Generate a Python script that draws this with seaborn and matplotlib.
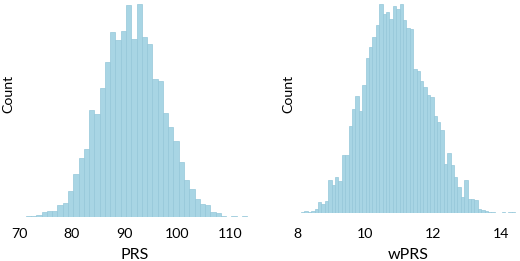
import numpy as np
import pandas as pd
import matplotlib
matplotlib.use("Agg")
import matplotlib.pyplot as plt
import seaborn as sns

# ---- data ----
prs_bin_start = 71.3
prs_bin_width = 1.0
prs_counts = [2, 4, 7, 14, 17, 18, 36, 42, 79, 130, 179, 207, 324, 312, 392, 470,
              560, 536, 564, 642, 540, 647, 547, 525, 420, 412, 315, 272, 232, 167,
              112, 84, 54, 38, 36, 14, 12, 4, 1, 2, 0, 2]
prs_ticks = [70, 80, 90, 100, 110]

wprs_bin_start = 8.12
wprs_bin_width = 0.1
wprs_counts = [2, 4, 2, 5, 12, 32, 25, 35, 99, 82, 107, 94, 173, 173, 260, 312,
               352, 305, 384, 465, 499, 529, 565, 629, 597, 604, 582, 621, 614, 629,
               579, 555, 553, 432, 427, 397, 379, 355, 347, 292, 272, 247, 145, 180,
               142, 107, 77, 47, 97, 42, 40, 39, 12, 7, 5, 3, 1, 0, 0, 1, 0, 1, 1, 0]
wprs_ticks = [8, 10, 12, 14]

sns.set_style("white")
plt.rcParams['font.family'] = ['Lato', 'DejaVu Sans']

BAR = '#a8d5e4'
EDGE = '#95c7d9'

fig = plt.figure(figsize=(5.2, 2.61), dpi=100)


def panel(rect, start, width, counts, ticks, xlim, xlabel, pad, ylab_coords):
    ax = fig.add_axes(rect)
    n = len(counts)
    edges = start + width * np.arange(n + 1)
    centers = (edges[:-1] + edges[1:]) / 2
    df = pd.DataFrame({'value': centers, 'count': np.asarray(counts, dtype=float)})
    sns.histplot(data=df, x='value', weights='count', bins=[float(e) for e in edges],
                 ax=ax, color=BAR, edgecolor=EDGE, linewidth=0.5, alpha=1)
    ax.set_xlim(*xlim)
    ax.set_ylim(0, max(counts) * 1.008)
    ax.set_xticks(ticks)
    ax.set_xticklabels([str(t) for t in ticks])
    ax.set_yticks([])
    ax.tick_params(axis='x', length=0, pad=pad, labelsize=10.2, labelcolor='black')
    ax.set_xlabel(xlabel, fontsize=11.5, labelpad=5.5, color='black')
    ax.set_ylabel('Count', fontsize=10.2, color='black')
    ax.yaxis.set_label_coords(*ylab_coords)
    for s in ax.spines.values():
        s.set_visible(False)
    return ax


panel([19 / 520, 44 / 261, 232 / 520, 215 / 261], prs_bin_start, prs_bin_width,
      prs_counts, prs_ticks, (70, 114), 'PRS', 8.0, (-0.022, 0.574))
panel([297 / 520, 48.5 / 261, 222.7 / 520, 210.5 / 261], wprs_bin_start, wprs_bin_width,
      wprs_counts, wprs_ticks, (8, 14.55), 'wPRS', 11.2, (-0.012, 0.565))

fig.savefig('out.png', dpi=100)
